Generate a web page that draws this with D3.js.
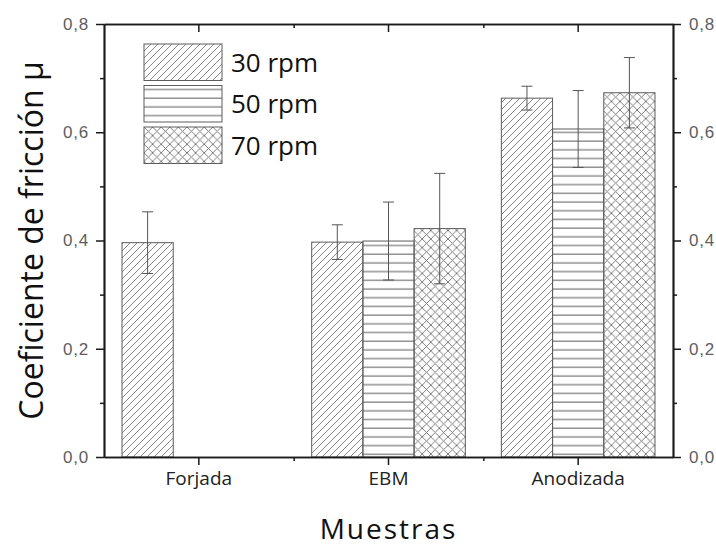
<!DOCTYPE html>
<html>
<head>
<meta charset="utf-8">
<script src="https://cdn.jsdelivr.net/npm/d3@7"></script>
<style>
  body { margin: 0; background: #fff; }
  svg { display: block; }
</style>
</head>
<body>
<svg id="chart" width="716" height="547"></svg>
<script>
// data
var categories = ["Forjada", "EBM", "Anodizada"];
var seriesNames = ["30 rpm", "50 rpm", "70 rpm"];
var values30 = [0.396, 0.397, 0.663];
var values50 = [null, 0.399, 0.606];
var values70 = [null, 0.422, 0.673];
var err30 = [0.057, 0.032, 0.022];
var err50 = [null, 0.072, 0.071];
var err70 = [null, 0.102, 0.065];
var yMajorTicks = [0, 0.2, 0.4, 0.6, 0.8];
var yMinorTicks = [0.1, 0.3, 0.5, 0.7];
var patternIds = ["hatchDiag", "hatchHoriz", "hatchCross"];

var allValues = [values30, values50, values70];
var allErrors = [err30, err50, err70];

var svg = d3.select("#chart");
var margin = {top: 24, right: 43, bottom: 90, left: 104};
var width = 716 - margin.left - margin.right;
var height = 547 - margin.top - margin.bottom;

var locale = d3.formatLocale({decimal: ",", thousands: ".", grouping: [3], currency: ["", "€"]});
var fmt = locale.format(".1f");

// hatch patterns
var defs = svg.append("defs");
var p1 = defs.append("pattern").attr("id", "hatchDiag")
  .attr("patternUnits", "userSpaceOnUse").attr("width", 7).attr("height", 7);
p1.append("path").attr("d", "M-1,1 l2,-2 M0,7 l7,-7 M6,8 l2,-2")
  .attr("stroke", "#7a7a7a").attr("stroke-width", 0.9);

var p2 = defs.append("pattern").attr("id", "hatchHoriz")
  .attr("patternUnits", "userSpaceOnUse").attr("width", 8).attr("height", 8.7);
p2.append("line").attr("x1", 0).attr("x2", 8).attr("y1", 4).attr("y2", 4)
  .attr("stroke", "#5a5a5a").attr("stroke-width", 1);

var p3 = defs.append("pattern").attr("id", "hatchCross")
  .attr("patternUnits", "userSpaceOnUse").attr("width", 8.6).attr("height", 8.6);
p3.append("path").attr("d", "M0,8.6 L8.6,0 M-1,1 L1,-1 M7.6,9.6 L9.6,7.6 M0,0 L8.6,8.6 M-1,7.6 L1,9.6 M7.6,-1 L9.6,1")
  .attr("stroke", "#6e6e6e").attr("stroke-width", 0.9);

var g = svg.append("g").attr("transform", "translate(" + margin.left + "," + margin.top + ")");

var x = d3.scaleBand().domain(categories).range([0, width]);
var groupW = x.bandwidth() * 0.81;
var xSub = d3.scaleBand().domain(seriesNames)
  .range([(x.bandwidth() - groupW) / 2, (x.bandwidth() + groupW) / 2]);
var y = d3.scaleLinear().domain([0, 0.8]).range([height, 0]);
var xIdx = d3.scaleLinear().domain([0, categories.length]).range([0, width]);

// bars
var rows = [];
categories.forEach(function(c, i) {
  seriesNames.forEach(function(s, j) {
    if (allValues[j][i] != null) {
      rows.push({cat: c, ser: s, j: j, v: allValues[j][i], e: allErrors[j][i]});
    }
  });
});

g.selectAll("rect.bar").data(rows).enter().append("rect")
  .attr("class", "bar")
  .attr("x", function(d) { return x(d.cat) + xSub(d.ser); })
  .attr("y", function(d) { return y(d.v); })
  .attr("width", xSub.bandwidth())
  .attr("height", function(d) { return y(0) - y(d.v); })
  .attr("fill", function(d) { return "url(#" + patternIds[d.j] + ")"; })
  .attr("stroke", "#5c5c5c")
  .attr("stroke-width", 1);

// error bars
var capW = 5.5;
var eb = g.selectAll("g.err").data(rows).enter().append("g").attr("class", "err")
  .attr("stroke", "#555").attr("stroke-width", 1);
eb.append("line")
  .attr("x1", function(d) { return x(d.cat) + xSub(d.ser) + xSub.bandwidth() / 2; })
  .attr("x2", function(d) { return x(d.cat) + xSub(d.ser) + xSub.bandwidth() / 2; })
  .attr("y1", function(d) { return y(d.v - d.e); })
  .attr("y2", function(d) { return y(d.v + d.e); });
[1, -1].forEach(function(sign) {
  eb.append("line")
    .attr("x1", function(d) { return x(d.cat) + xSub(d.ser) + xSub.bandwidth() / 2 - capW; })
    .attr("x2", function(d) { return x(d.cat) + xSub(d.ser) + xSub.bandwidth() / 2 + capW; })
    .attr("y1", function(d) { return y(d.v + sign * d.e); })
    .attr("y2", function(d) { return y(d.v + sign * d.e); });
});

// axes
function styleAxis(sel, labelColor) {
  sel.selectAll(".domain").attr("stroke", "#1a1a1a").attr("stroke-width", 1.7);
  sel.selectAll(".tick line").attr("stroke", "#1a1a1a").attr("stroke-width", 1.5);
  sel.selectAll(".tick text").attr("fill", labelColor);
}

var yLeft = g.append("g")
  .call(d3.axisLeft(y).tickValues(yMajorTicks).tickFormat(fmt).tickSize(8).tickPadding(7).tickSizeOuter(0));
yLeft.selectAll("text").style("font-family", "'Liberation Sans', Arial, sans-serif").style("font-size", "17px").style("letter-spacing", "0.8px");
styleAxis(yLeft, "#5e5e5e");
var yLeftMinor = g.append("g")
  .call(d3.axisLeft(y).tickValues(yMinorTicks).tickFormat("").tickSize(4).tickSizeOuter(0));
styleAxis(yLeftMinor, "#000");

var yRight = g.append("g").attr("transform", "translate(" + width + ",0)")
  .call(d3.axisRight(y).tickValues(yMajorTicks).tickFormat(fmt).tickSize(8).tickPadding(8).tickSizeOuter(0));
yRight.selectAll("text").style("font-family", "'Liberation Sans', Arial, sans-serif").style("font-size", "17px").style("letter-spacing", "0.8px");
styleAxis(yRight, "#5e5e5e");
var yRightMinor = g.append("g").attr("transform", "translate(" + width + ",0)")
  .call(d3.axisRight(y).tickValues(yMinorTicks).tickFormat("").tickSize(4).tickSizeOuter(0));
styleAxis(yRightMinor, "#000");

var xBottom = g.append("g").attr("transform", "translate(0," + height + ")")
  .call(d3.axisBottom(x).tickSize(8).tickPadding(7).tickSizeOuter(0));
xBottom.selectAll("text").style("font-family", "'Open Sans', sans-serif").style("font-size", "19px");
styleAxis(xBottom, "#222");
var xBottomMinor = g.append("g").attr("transform", "translate(0," + height + ")")
  .call(d3.axisBottom(xIdx).tickValues([1, 2]).tickFormat("").tickSize(4).tickSizeOuter(0));
styleAxis(xBottomMinor, "#000");

var xTop = g.append("g")
  .call(d3.axisTop(x).tickSize(-8).tickFormat("").tickSizeOuter(0));
styleAxis(xTop, "#000");
var xTopMinor = g.append("g")
  .call(d3.axisTop(xIdx).tickValues([1, 2]).tickFormat("").tickSize(-4).tickSizeOuter(0));
styleAxis(xTopMinor, "#000");

// axis titles
svg.append("text")
  .attr("transform", "translate(43," + (margin.top + height / 2) + ") rotate(-90)")
  .attr("text-anchor", "middle")
  .style("font-family", "'Open Sans', sans-serif")
  .style("font-size", "32px")
  .attr("fill", "#111")
  .text("Coeficiente de fricción μ");

svg.append("text")
  .attr("x", margin.left + width / 2)
  .attr("y", 539)
  .attr("text-anchor", "middle")
  .style("font-family", "'Open Sans', sans-serif")
  .style("font-size", "28px")
  .style("letter-spacing", "2px")
  .attr("fill", "#111")
  .text("Muestras");

// legend
var legend = g.append("g").attr("transform", "translate(40,20)");
var li = legend.selectAll("g").data(seriesNames).enter().append("g")
  .attr("transform", function(d, i) { return "translate(0," + (i * 41.5) + ")"; });
li.append("rect")
  .attr("width", 78).attr("height", 36.5)
  .attr("fill", function(d, i) { return "url(#" + patternIds[i] + ")"; })
  .attr("stroke", "#5c5c5c").attr("stroke-width", 1);
li.append("text")
  .attr("x", 87).attr("y", 18.5).attr("dy", "0.35em")
  .style("font-family", "'Open Sans', sans-serif")
  .style("font-size", "26px")
  .attr("fill", "#111")
  .text(function(d) { return d; });
</script>
</body>
</html>
